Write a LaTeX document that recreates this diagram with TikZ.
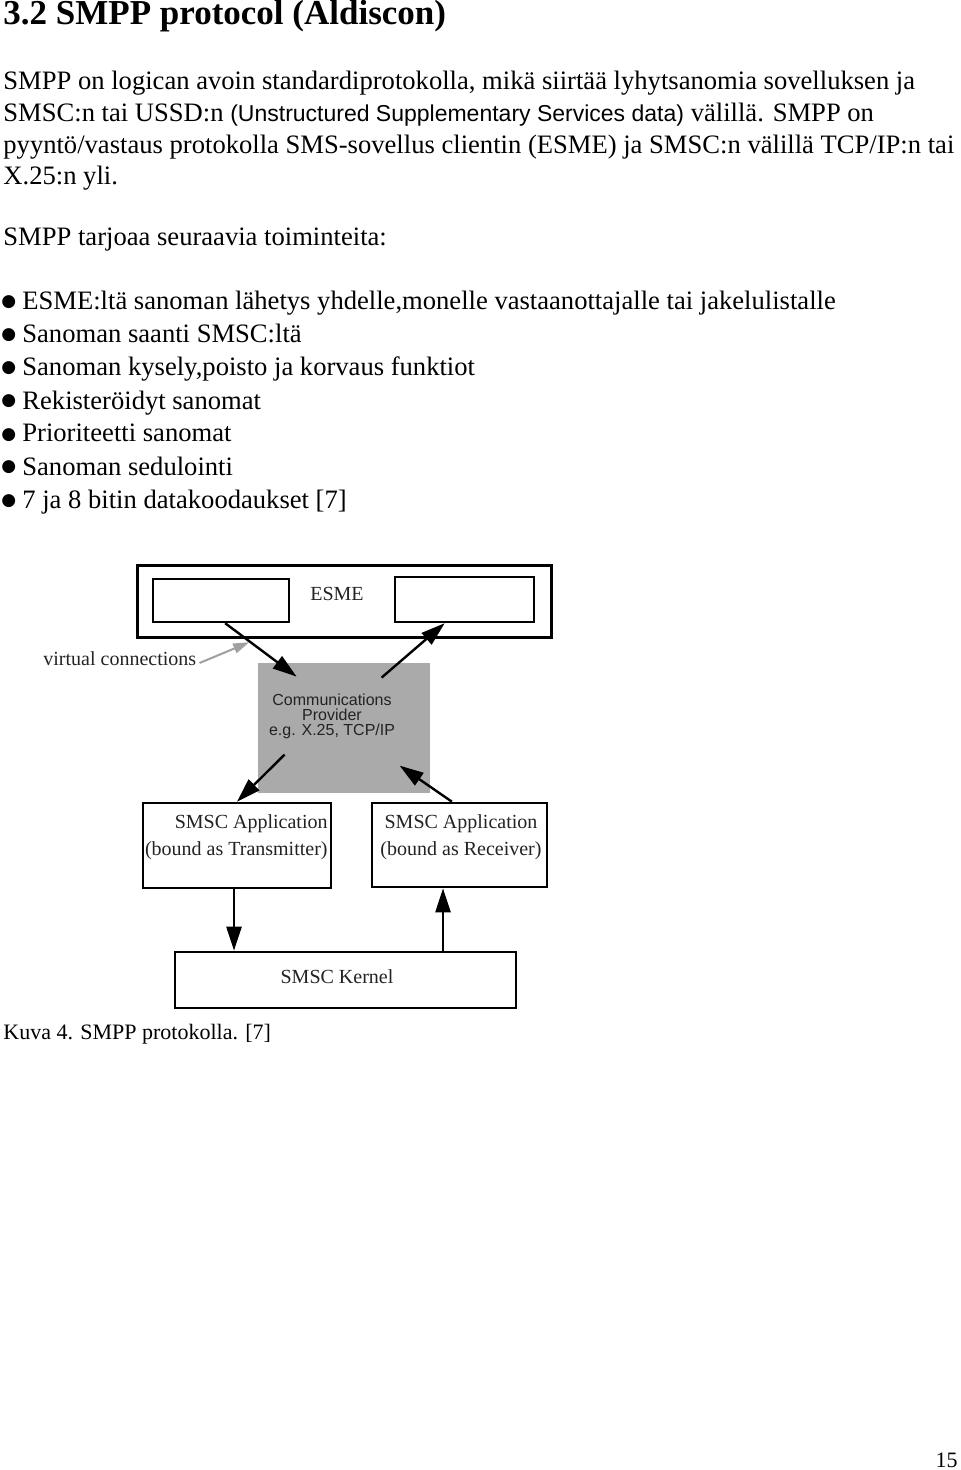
\documentclass[tikz,border=0pt]{standalone}
\usepackage{fontspec}
\setmainfont{Liberation Serif}
\newfontfamily\arialfont{Liberation Sans}
\newfontfamily\dejavufont{DejaVu Sans}
\usetikzlibrary{arrows.meta,calc}
\definecolor{boxgray}{RGB}{170,170,170}
\definecolor{vcgray}{RGB}{160,160,160}
\definecolor{dtext}{RGB}{35,35,35}
\begin{document}
\begin{tikzpicture}[x=0.5pt,y=-0.5pt,
  body/.style={inner sep=0pt, anchor=base west, font=\fontsize{13.3}{16}\selectfont},
  bulletmark/.style={inner sep=0pt, anchor=base west, font=\dejavufont\fontsize{8.5}{10}\selectfont},
  titletxt/.style={inner sep=0pt, anchor=base west, font=\fontsize{17.5}{20}\selectfont\bfseries},
  smalltxt/.style={inner sep=0pt, font=\fontsize{11}{13}\selectfont},
  dlabel/.style={inner sep=0pt, text=dtext, font=\fontsize{10}{12}\selectfont},
  thickbox/.style={draw, line width=1.5pt, inner sep=0pt},
  innerbox/.style={draw, line width=1.2pt, inner sep=0pt},
  appbox/.style={draw, line width=1.3pt, inner sep=0pt},
  conn/.style={line width=1.2pt, -{Triangle[length=12pt,width=7.5pt]}},
  vcarrow/.style={draw=vcgray, line width=1pt, -{Triangle[length=8pt,width=5pt]}, shorten >=0.5pt}
]
\useasboundingbox[fill=white] (0,0) rectangle (960,1470);

% ---- text of the page ----
\node[titletxt] (title) at (3,25) {3.2 SMPP protocol (Aldiscon)};
\node[body] (p1) at (3,90) {SMPP on logican avoin standardiprotokolla, mikä siirtää lyhytsanomia sovelluksen ja};
\node[body] (p2) at (3,121.7) {SMSC:n tai USSD:n {\arialfont\fontsize{11.5}{14}\selectfont (Unstructured Supplementary Services data)} välillä. SMPP on};
\node[body] (p3) at (3,153.3) {pyyntö/vastaus protokolla SMS-sovellus clientin (ESME) ja SMSC:n välillä TCP/IP:n tai};
\node[body] (p4) at (3,185) {X.25:n yli.};
\node[body] (p5) at (3,246) {SMPP tarjoaa seuraavia toiminteita:};

\foreach \i/\yy/\t in {1/310/{ESME:ltä sanoman lähetys yhdelle,monelle vastaanottajalle tai jakelulistalle},
                      2/343/{Sanoman saanti SMSC:ltä},
                      3/376/{Sanoman kysely,poisto ja korvaus funktiot},
                      4/409/{Rekisteröidyt sanomat},
                      5/442/{Prioriteetti sanomat},
                      6/475/{Sanoman sedulointi},
                      7/508/{7 ja 8 bitin datakoodaukset [7]}} {
  \node[bulletmark] (dot\i) at (1,\yy-3) {●};
  \node[body] (item\i) at (22,\yy) {\t};
}

\node[smalltxt, anchor=base west] (caption) at (3,1039) {Kuva 4. SMPP protokolla. [7]};
\node[smalltxt, anchor=base east] (pagenum) at (958,1467) {15};

% ---- diagram ----
\node[thickbox, minimum width=207pt, minimum height=36pt] (esme) at (344,601) {};
\node[innerbox, minimum width=68pt, minimum height=21.5pt] (esmeL) at (221,600.5) {};
\node[innerbox, minimum width=69.5pt, minimum height=22.5pt] (esmeR) at (464.5,599.5) {};
\node[dlabel, anchor=base] (esmelabel) at (337,600) {ESME};

\node[fill=boxgray, inner sep=0pt, minimum width=86pt, minimum height=65pt] (cp) at (344,728) {};
\node[inner sep=0pt, align=center, text=dtext, font=\arialfont\fontsize{8}{7.5}\selectfont] (cptext) at (332,716) {Communications\\Provider\\e.g. X.25, TCP/IP};

\node[dlabel, anchor=base west] (vc) at (43,665) {virtual connections};

\node[appbox, minimum width=94pt, minimum height=42.5pt] (tx) at (237,845.5) {};
\node[dlabel, anchor=base east] (txl1) at (328,828) {SMSC Application};
\node[dlabel, anchor=base east] (txl2) at (328,855) {(bound as Transmitter)};

\node[appbox, minimum width=87.5pt, minimum height=42pt] (rx) at (459.5,845) {};
\node[dlabel, anchor=base] (rxl1) at (461,828) {SMSC Application};
\node[dlabel, anchor=base] (rxl2) at (461,855) {(bound as Receiver)};

\node[appbox, minimum width=170.5pt, minimum height=28pt] (kernel) at (345.5,980) {};
\node[dlabel, anchor=base] (kernellabel) at (337,983) {SMSC Kernel};

% connectors
\draw[conn] ($(esmeL.south west)!0.53!(esmeL.south east)$) -- coordinate[pos=0.35] (vtip) ([shift={(39,14)}]cp.north west);
\draw[conn] ([shift={(124,15)}]cp.north west) -- ($(esmeR.south west)!0.36!(esmeR.south east)$);
\draw[conn] ([shift={(27,92)}]cp.north west) -- (tx.north);
\draw[conn] ($(rx.north west)!0.457!(rx.north east)$) -- ([shift={(142,103)}]cp.north west);
\coordinate (txk) at ([xshift=-1.5pt]tx.south);
\draw[conn] (txk) -- (txk |- kernel.north);
\coordinate (rxk) at ([xshift=-8.25pt]rx.south);
\draw[conn] (rxk |- kernel.north) -- (rxk);
\coordinate (vcstart) at ([xshift=1.5pt,yshift=1pt]vc.base east);
\draw[vcarrow] (vcstart) -- (vtip);
\end{tikzpicture}
\end{document}
